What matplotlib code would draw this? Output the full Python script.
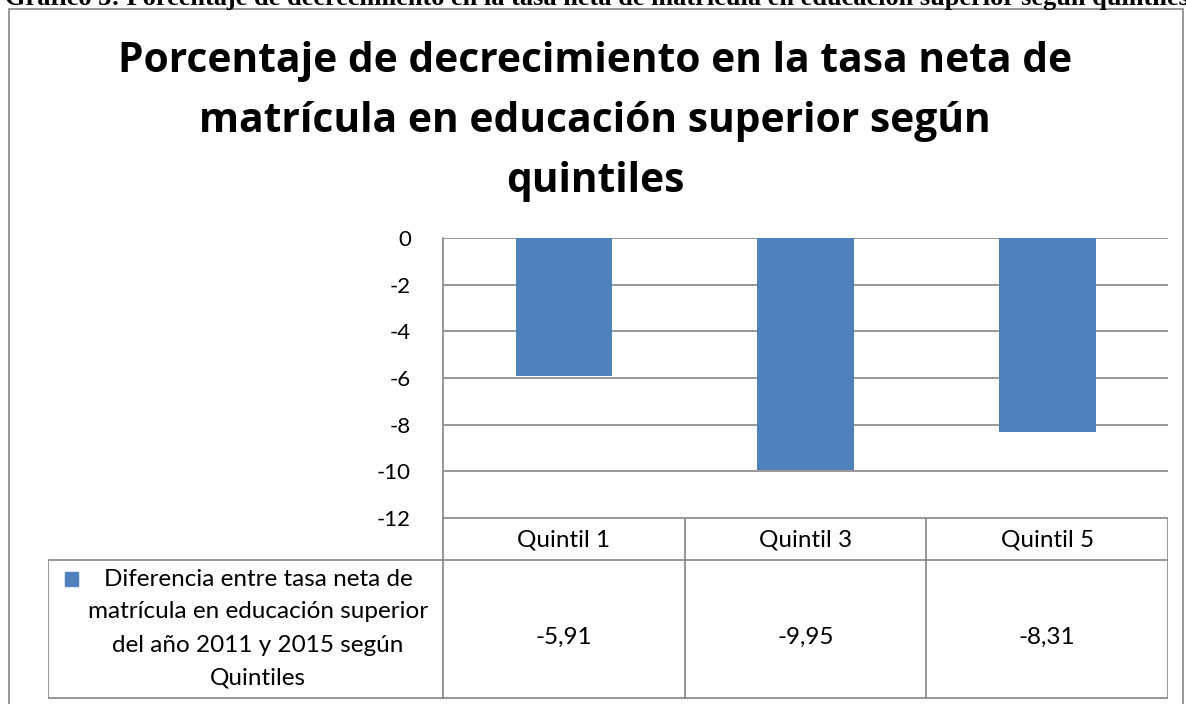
import matplotlib
matplotlib.use("Agg")
import matplotlib.pyplot as plt
from matplotlib.patches import Rectangle

categories = ["Quintil 1", "Quintil 3", "Quintil 5"]
values = [-5.91, -9.95, -8.31]
value_labels = ["-5,91", "-9,95", "-8,31"]
yticks = [0, -2, -4, -6, -8, -10, -12]
series_name = ["Diferencia entre tasa neta de", "matrícula en educación superior",
               "del año 2011 y 2015 según", "Quintiles"]
title_lines = ["Porcentaje de decrecimiento en la tasa neta de",
               "matrícula en educación superior según", "quintiles"]
caption = "Gráfico 3: Porcentaje de decrecimiento en la tasa neta de matrícula en educación superior según quintiles"

W, H = 1186, 704
fig = plt.figure(figsize=(W / 100, H / 100), dpi=100)
FONT = "Lato"
BAR = "#4F81BD"
GRID = "#868686"

def fx(x):
    return x / W

def fy(y):
    return 1 - y / H

# caption (clipped at the top edge, as in the reference)
fig.text(fx(5), fy(5.5), caption, family="Liberation Serif", weight="bold",
         fontsize=19.0, ha="left", va="baseline", color="black")

# outer frame
fig.add_artist(Rectangle((fx(9), fy(712)), fx(1183 - 9), (712 - 9) / H,
                         transform=fig.transFigure, fill=False, edgecolor=GRID, lw=1.2))

# title
for i, t in enumerate(title_lines):
    fig.text(fx(595), fy(62 + 60 * i), t, family="Open Sans", weight="bold",
             fontsize=29.3, ha="center", va="center", color="black")

# main axes
L, R, T, B = 443, 1168, 238, 518
ax = fig.add_axes([fx(L), fy(B), fx(R - L), (B - T) / H])
x = list(range(len(categories)))
ax.bar(x, values, width=0.4, color=BAR, zorder=3)
ax.set_xlim(-0.5, len(categories) - 0.5)
ax.set_ylim(-12, 0)
ax.set_yticks(yticks)
ax.set_yticklabels([str(v) for v in yticks], family=FONT, fontsize=16)
ax.tick_params(axis="y", length=0, pad=23)
ax.set_xticks([])
for v in yticks:
    ax.axhline(v, color=GRID, lw=1.2, zorder=1)
for s in ["top", "right", "bottom"]:
    ax.spines[s].set_visible(False)
ax.spines["left"].set_color(GRID)
ax.spines["left"].set_linewidth(1.2)
ax.set_facecolor("none")

# table axes: x in category units, y in pixels
tab = fig.add_axes([fx(48), fy(699), fx(R - 48), (699 - B) / H])
x0 = -0.5 - (L - 48) / ((R - L) / 3)
tab.set_xlim(x0, len(categories) - 0.5)
tab.set_ylim(699, B)
tab.axis("off")
kw = dict(color=GRID, lw=1.2)
tab.plot([-0.5, 2.5], [B, B], **kw)
tab.plot([x0, 2.5], [560, 560], **kw)
tab.plot([x0, 2.5], [698, 698], **kw)
for xv in [-0.5, 0.5, 1.5, 2.5]:
    tab.plot([xv, xv], [B, 698], **kw)
tab.plot([x0, x0], [560, 698], **kw)
for i, c in enumerate(categories):
    tab.text(i, 540, c, family=FONT, fontsize=17.5, ha="center", va="center")
    tab.text(i, 637, value_labels[i], family=FONT, fontsize=17.5, ha="center", va="center")
for j, line in enumerate(series_name):
    tab.text(x0 + (258 - 48) / ((R - L) / 3), 579 + 33 * j, line, family=FONT,
             fontsize=17.5, ha="center", va="center")
fig.add_artist(Rectangle((fx(65), fy(586)), fx(13), 14 / H, transform=fig.transFigure,
                         color=BAR))

fig.savefig("out.png", dpi=100)
